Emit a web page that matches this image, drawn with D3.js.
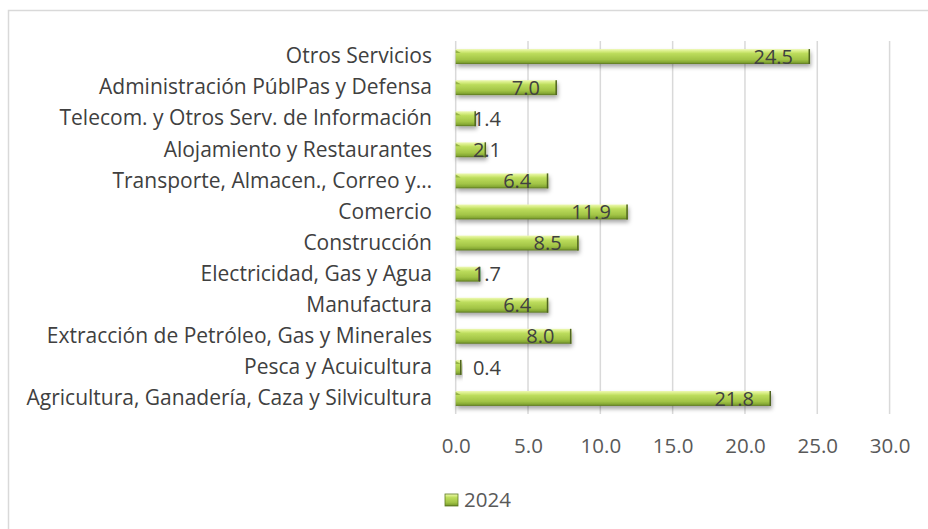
<!DOCTYPE html>
<html>
<head>
<meta charset="utf-8">
<script src="https://cdn.jsdelivr.net/npm/d3@7"></script>
<style>
  html, body { margin: 0; padding: 0; background: #fff; }
  svg { display: block; font-family: "Open Sans", "Noto Sans", sans-serif; }
</style>
</head>
<body>
<svg id="chart" width="928" height="529"></svg>
<script>
// Sector names, top to bottom as shown
const categories = [
    'Otros Servicios',
    'Administración PúblPas y Defensa',
    'Telecom. y Otros Serv. de Información',
    'Alojamiento y Restaurantes',
    'Transporte, Almacen., Correo y…',
    'Comercio',
    'Construcción',
    'Electricidad, Gas y Agua',
    'Manufactura',
    'Extracción de Petróleo, Gas y Minerales',
    'Pesca y Acuicultura',
    'Agricultura, Ganadería, Caza y Silvicultura'
];
const values2024 = [24.5, 7.0, 1.4, 2.1, 6.4, 11.9, 8.5, 1.7, 6.4, 8.0, 0.4, 21.8];
const xTicks = [0, 5, 10, 15, 20, 25, 30];
const seriesName = '2024';

const svg = d3.select('#chart');
const defs = svg.append('defs');

// bar fill: bevelled green look
const grad = defs.append('linearGradient')
    .attr('id', 'barGrad')
    .attr('x1', 0).attr('y1', 0).attr('x2', 0).attr('y2', 1);
[
    [0, '#eef9b4'], [0.18, '#d2ea7a'], [0.3, '#bcdc5c'],
    [0.7, '#a2c446'], [0.88, '#86a934'], [1, '#5a7520']
].forEach(([o, c]) => grad.append('stop').attr('offset', o).attr('stop-color', c));

const shadow = defs.append('filter')
    .attr('id', 'shadow')
    .attr('x', '-10%').attr('y', '-50%').attr('width', '130%').attr('height', '220%');
shadow.append('feDropShadow')
    .attr('dx', 1).attr('dy', 3).attr('stdDeviation', 2)
    .attr('flood-color', '#000').attr('flood-opacity', 0.35);

// outer chart frame
svg.append('rect')
    .attr('x', 8.5).attr('y', 10.5)
    .attr('width', 960).attr('height', 560)
    .attr('fill', 'none')
    .attr('stroke', '#d9d9d9')
    .attr('stroke-width', 1.5);

const x = d3.scaleLinear().domain([0, 30]).range([455.7, 889.6]);
const y = d3.scaleBand().domain(categories).range([41, 414]).paddingInner(0.52).paddingOuter(0.26);

// gridlines
svg.append('g')
    .selectAll('line')
    .data(xTicks)
    .join('line')
    .attr('x1', d => x(d)).attr('x2', d => x(d))
    .attr('y1', 41).attr('y2', 414)
    .attr('stroke', '#d9d9d9')
    .attr('stroke-width', 1.5);

// x tick labels
const xAxis = svg.append('g')
    .attr('transform', 'translate(0,436)')
    .call(d3.axisBottom(x).tickValues(xTicks).tickFormat(d3.format('.1f')).tickSize(0).tickPadding(0));
xAxis.select('.domain').remove();
xAxis.selectAll('text')
    .attr('font-family', '"Open Sans", "Noto Sans", sans-serif')
    .attr('font-size', 20.5)
    .attr('fill', '#595959')
    .attr('dy', '0.35em')
    .attr('y', 10);

// category labels
const yAxis = svg.append('g')
    .attr('transform', 'translate(432,0)')
    .call(d3.axisLeft(y).tickSize(0).tickPadding(0));
yAxis.select('.domain').remove();
yAxis.selectAll('text')
    .attr('font-family', '"Open Sans", "Noto Sans", sans-serif')
    .attr('font-size', 21)
    .attr('fill', '#404040');

// bars
const bars = svg.append('g')
    .selectAll('g')
    .data(categories.map((c, i) => ({ name: c, value: values2024[i] })))
    .join('g');

bars.append('rect')
    .attr('x', x(0))
    .attr('y', d => y(d.name))
    .attr('width', d => x(d.value) - x(0))
    .attr('height', y.bandwidth())
    .attr('fill', 'url(#barGrad)')
    .attr('filter', 'url(#shadow)');

// dark right edge of the bevel
bars.append('line')
    .attr('x1', d => x(d.value) - 0.75).attr('x2', d => x(d.value) - 0.75)
    .attr('y1', d => y(d.name)).attr('y2', d => y(d.name) + y.bandwidth())
    .attr('stroke', '#4f6420')
    .attr('stroke-width', 1.5);

// small bevel triangle at the left end
bars.append('path')
    .attr('d', d => {
        const x0 = x(0), y0 = y(d.name), s = Math.min(5, x(d.value) - x(0));
        return `M${x0},${y0 + 1}L${x0 + s},${y0 + 4}L${x0},${y0 + 4}Z`;
    })
    .attr('fill', '#7f9f30')
    .attr('opacity', 0.7);

// value labels, inside end, or just past the bar if it is short
bars.append('text')
    .attr('x', d => Math.max(x(d.value) - 17, 501))
    .attr('y', d => y(d.name) + y.bandwidth() / 2)
    .attr('dy', '0.36em')
    .attr('text-anchor', 'end')
    .attr('font-size', 20)
    .attr('fill', '#404040')
    .text(d => d3.format('.1f')(d.value));

// legend
const legend = svg.append('g').attr('transform', 'translate(445,494)');
legend.append('rect')
    .attr('width', 13).attr('height', 12)
    .attr('fill', 'url(#barGrad)')
    .attr('stroke', '#5e7a22')
    .attr('stroke-width', 0.8);
legend.append('text')
    .attr('x', 19).attr('y', 6)
    .attr('dy', '0.36em')
    .attr('font-size', 20.5)
    .attr('fill', '#595959')
    .text(seriesName);
</script>
</body>
</html>
